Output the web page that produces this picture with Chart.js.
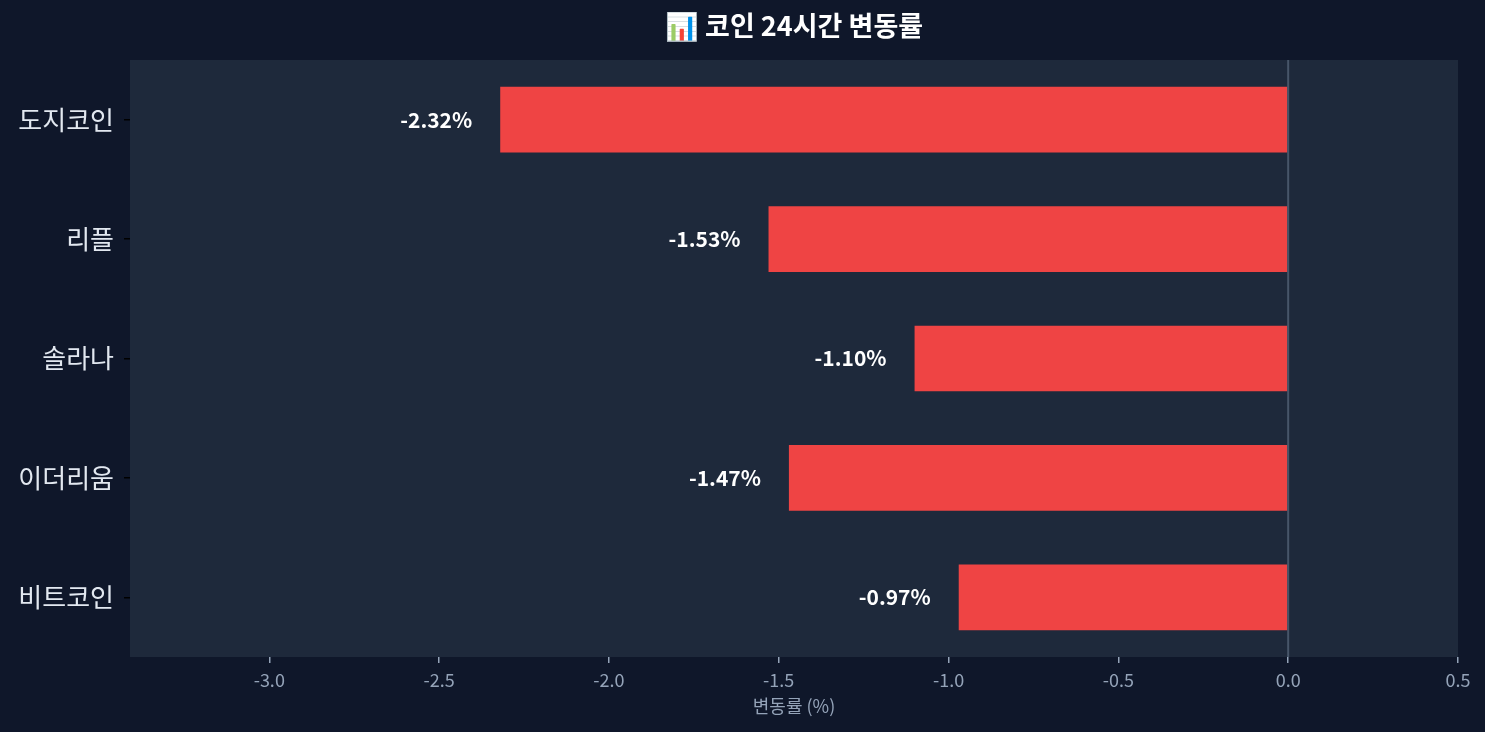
<!DOCTYPE html>
<html><head><meta charset="utf-8">
<script src="https://cdn.jsdelivr.net/npm/chart.js@4.4.0/dist/chart.umd.min.js"></script>
<style>html,body{margin:0;padding:0;background:#0f172a;}#wrap{width:1485px;height:732px;}</style>
</head><body><div id="wrap"><canvas id="c" width="1485" height="732"></canvas></div>
<script>
const categories = ["도지코인", "리플", "솔라나", "이더리움", "비트코인"];
const changes = [-2.32, -1.53, -1.10, -1.47, -0.97];
const xTicks = [-3.0, -2.5, -2.0, -1.5, -1.0, -0.5, 0.0, 0.5];
const titleText = "📊 코인 24시간 변동률";
const xTitle = "변동률 (%)";
const FONT = "'Noto Sans CJK KR', 'Noto Sans', sans-serif";

const deco = {
  id: 'deco',
  beforeDraw(chart) {
    const {ctx, chartArea: a} = chart;
    ctx.save();
    ctx.fillStyle = '#0f172a';
    ctx.fillRect(0, 0, chart.width, chart.height);
    ctx.fillStyle = '#1e293b';
    ctx.fillRect(a.left, a.top, a.right - a.left, a.bottom - a.top);
    ctx.restore();
  },
  afterDatasetsDraw(chart) {
    const {ctx, chartArea: a, scales} = chart;
    const x0 = scales.x.getPixelForValue(0);
    ctx.save();
    ctx.strokeStyle = '#475569';
    ctx.lineWidth = 2;
    ctx.beginPath(); ctx.moveTo(x0, a.top); ctx.lineTo(x0, a.bottom); ctx.stroke();
    ctx.fillStyle = '#ffffff';
    ctx.font = "bold 21px " + FONT;
    ctx.textAlign = 'right';
    ctx.textBaseline = 'middle';
    changes.forEach((v, i) => {
      const px = scales.x.getPixelForValue(v) - 28;
      const py = scales.y.getPixelForValue(i);
      ctx.fillText(v.toFixed(2) + '%', px, py);
    });
    ctx.font = "bold 27px " + FONT;
    ctx.textAlign = 'center';
    ctx.fillText(titleText, (a.left + a.right) / 2, 26);
    ctx.fillStyle = '#94a3b8';
    ctx.font = "18px " + FONT;
    ctx.fillText(xTitle, (a.left + a.right) / 2, 706);
    ctx.restore();
  }
};

new Chart(document.getElementById('c'), {
  type: 'bar',
  data: {
    labels: categories,
    datasets: [{
      data: changes,
      backgroundColor: '#ef4444',
      borderWidth: 0,
      categoryPercentage: 1.0,
      barPercentage: 0.55
    }]
  },
  options: {
    indexAxis: 'y',
    responsive: false,
    animation: false,
    devicePixelRatio: 1,
    layout: {padding: {top: 60, right: 27, left: 0, bottom: 0}},
    plugins: {legend: {display: false}, tooltip: {enabled: false}, title: {display: false}},
    scales: {
      x: {
        min: -3.41, max: 0.5,
        afterBuildTicks(s) { s.ticks = xTicks.map(v => ({value: v})); },
        afterFit(s) { s.height = 75; },
        border: {display: false},
        grid: {drawOnChartArea: false, drawTicks: true, tickLength: 6, color: '#94a3b8', lineWidth: 1.5},
        ticks: {color: '#94a3b8', font: {family: FONT, size: 18}, padding: 6, callback: v => Number(v).toFixed(1), maxRotation: 0, autoSkip: false}
      },
      y: {
        afterFit(s) { s.width = 130; },
        border: {display: false},
        grid: {offset: false, drawOnChartArea: false, drawTicks: true, tickLength: 6, color: '#000000', lineWidth: 1.5},
        ticks: {color: '#e2e8f0', font: {family: FONT, size: 26}, padding: 10}
      }
    }
  },
  plugins: [deco]
});
</script></body></html>
